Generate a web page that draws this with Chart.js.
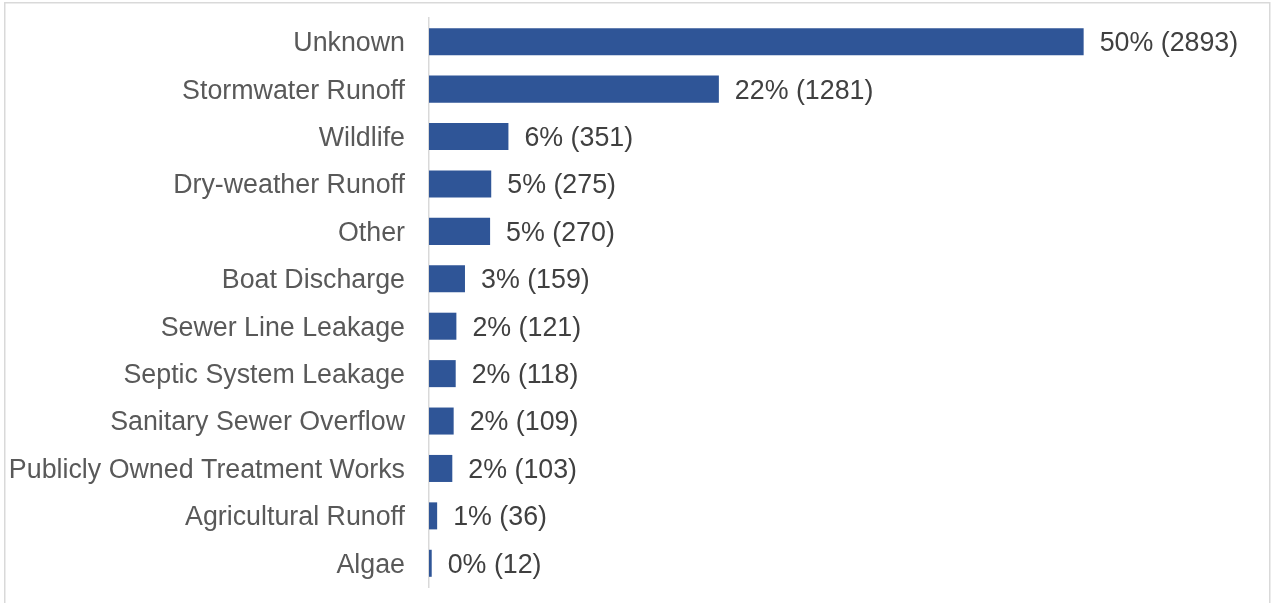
<!DOCTYPE html>
<html>
<head>
<meta charset="utf-8">
<script src="https://cdn.jsdelivr.net/npm/chart.js@4/dist/chart.umd.min.js"></script>
<style>
html,body{margin:0;padding:0;background:#fff;}
#wrap{width:1272px;height:603px;position:relative;}
</style>
</head>
<body>
<div id="wrap"><canvas id="c" width="1272" height="603"></canvas></div>
<script>
const categories = ["Unknown","Stormwater Runoff","Wildlife","Dry-weather Runoff","Other","Boat Discharge","Sewer Line Leakage","Septic System Leakage","Sanitary Sewer Overflow","Publicly Owned Treatment Works","Agricultural Runoff","Algae"];
const counts = [2893,1281,351,275,270,159,121,118,109,103,36,12];
const percents = ["50%","22%","6%","5%","5%","3%","2%","2%","2%","2%","1%","0%"];
const xMax = 3500;

const FONT = "'Liberation Sans', Arial, sans-serif";
const FSIZE = 26.8;

const frame = {
  id:'frame',
  beforeDraw(chart){
    const ctx = chart.ctx;
    ctx.save();
    ctx.fillStyle = '#fff';
    ctx.fillRect(0,0,chart.width,chart.height);
    ctx.strokeStyle = '#d9d9d9';
    ctx.lineWidth = 1.5;
    ctx.strokeRect(4.75,2.75,1265,620);
    ctx.restore();
  }
};

const valueLabels = {
  id:'valueLabels',
  afterDatasetsDraw(chart){
    const ctx = chart.ctx;
    const meta = chart.getDatasetMeta(0);
    ctx.save();
    ctx.font = FSIZE + "px " + FONT;
    ctx.fillStyle = '#404040';
    ctx.textAlign = 'left';
    ctx.textBaseline = 'middle';
    meta.data.forEach((bar,i)=>{
      ctx.fillText(percents[i] + " (" + counts[i] + ")", bar.x + 16, bar.y + 2);
    });
    ctx.restore();
  }
};

new Chart(document.getElementById('c'), {
  type:'bar',
  data:{
    labels: categories,
    datasets:[{
      data: counts,
      backgroundColor:'#2F5597',
      borderWidth:0,
      barPercentage:0.57,
      categoryPercentage:1.0
    }]
  },
  options:{
    indexAxis:'y',
    responsive:false,
    animation:false,
    events:[],
    layout:{padding:{top:18,bottom:16,right:51,left:0}},
    plugins:{legend:{display:false},tooltip:{enabled:false}},
    scales:{
      x:{display:false,min:0,max:xMax},
      y:{
        grid:{display:false,drawTicks:false},
        border:{display:true,color:'#d9d9d9',width:1.5},
        ticks:{font:{family:FONT,size:FSIZE},color:'#595959',padding:24,labelOffset:2},
        afterFit(scale){ scale.width = 429; scale.paddingTop = 0; scale.paddingBottom = 0; }
      }
    }
  },
  plugins:[frame,valueLabels]
});
</script>
</body>
</html>
